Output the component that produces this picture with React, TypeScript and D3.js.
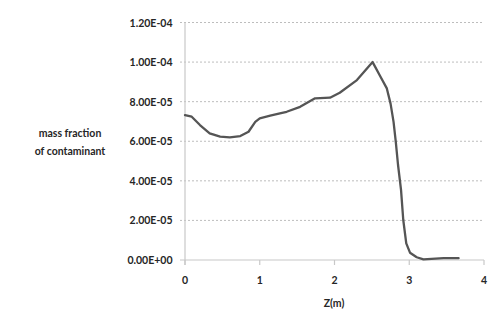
import * as d3 from "d3";
import { useEffect, useRef } from "react";

// distance along Z (m) and mass fraction
const zValues = [0, 0.09, 0.2, 0.33, 0.47, 0.6, 0.74, 0.85, 0.94, 1.0, 1.14, 1.27, 1.36, 1.54, 1.74, 1.94, 2.07, 2.3, 2.51, 2.61, 2.7, 2.75, 2.79, 2.82, 2.85, 2.89, 2.92, 2.96, 3.01, 3.1, 3.19, 3.46, 3.66];
const massFraction = [7.32e-5, 7.24e-5, 6.82e-5, 6.4e-5, 6.23e-5, 6.2e-5, 6.26e-5, 6.48e-5, 6.98e-5, 7.16e-5, 7.29e-5, 7.41e-5, 7.49e-5, 7.74e-5, 8.17e-5, 8.2e-5, 8.45e-5, 9.09e-5, 1.0e-4, 9.3e-5, 8.67e-5, 7.9e-5, 6.98e-5, 5.97e-5, 4.8e-5, 3.54e-5, 2.02e-5, 8.4e-6, 3.7e-6, 1.4e-6, 3.5e-7, 9e-7, 9e-7];
const yTicks = [0, 2e-5, 4e-5, 6e-5, 8e-5, 1e-4, 1.2e-4];
const xTicks = [0, 1, 2, 3, 4];

const fmtExp = (v: number) => {
  const s = v.toExponential(2).toUpperCase();
  const [m, e] = s.split("E");
  const n = parseInt(e, 10);
  const sign = n < 0 ? "-" : "+";
  return `${m}E${sign}${String(Math.abs(n)).padStart(2, "0")}`;
};

export default function App() {
  const ref = useRef<SVGSVGElement>(null);

  useEffect(() => {
    const svg = d3.select(ref.current);
    svg.selectAll("*").remove();
    const font = "Lato, 'Open Sans', sans-serif";
    const textColor = "#262626";

    const x = d3.scaleLinear().domain([0, 4]).range([185, 484]);
    const y = d3.scaleLinear().domain([0, 1.2e-4]).range([260, 22.5]);

    // gridlines
    svg.append("g")
      .selectAll("line")
      .data(yTicks.filter(d => d > 0))
      .join("line")
      .attr("x1", 180).attr("x2", 484)
      .attr("y1", d => y(d)).attr("y2", d => y(d))
      .attr("stroke", "#bdbdbd")
      .attr("stroke-width", 1)
      .attr("stroke-dasharray", "2,2");

    // axes lines
    svg.append("line")
      .attr("x1", x(0)).attr("x2", x(0))
      .attr("y1", y(1.2e-4)).attr("y2", y(0) + 5)
      .attr("stroke", "#c8c8c8").attr("stroke-width", 1.2);
    svg.append("line")
      .attr("x1", 180).attr("x2", x(4))
      .attr("y1", y(0)).attr("y2", y(0))
      .attr("stroke", "#c8c8c8").attr("stroke-width", 1.2);

    svg.append("g")
      .selectAll("line")
      .data(xTicks)
      .join("line")
      .attr("x1", d => x(d)).attr("x2", d => x(d))
      .attr("y1", y(0)).attr("y2", y(0) + 5)
      .attr("stroke", "#c8c8c8").attr("stroke-width", 1.2);

    // tick labels
    svg.append("g")
      .selectAll("text")
      .data(yTicks)
      .join("text")
      .attr("x", 172.5)
      .attr("y", d => y(d) + 4)
      .attr("text-anchor", "end")
      .attr("font-family", font)
      .attr("font-size", 10.5)
      .attr("font-weight", 700)
      .attr("fill", textColor)
      .text(d => fmtExp(d));

    svg.append("g")
      .selectAll("text")
      .data(xTicks)
      .join("text")
      .attr("x", d => x(d))
      .attr("y", 284)
      .attr("text-anchor", "middle")
      .attr("font-family", font)
      .attr("font-size", 10.5)
      .attr("font-weight", 700)
      .attr("fill", textColor)
      .text(d => d);

    svg.append("text")
      .attr("x", 334).attr("y", 307)
      .attr("text-anchor", "middle")
      .attr("font-family", font)
      .attr("font-size", 10.5)
      .attr("font-weight", 700)
      .attr("fill", textColor)
      .text("Z(m)");

    const yLabel = svg.append("text")
      .attr("text-anchor", "middle")
      .attr("font-family", font)
      .attr("font-size", 10.5)
      .attr("font-weight", 700)
      .attr("fill", textColor);
    yLabel.append("tspan").attr("x", 70).attr("y", 137).text("mass fraction");
    yLabel.append("tspan").attr("x", 70).attr("y", 155).text("of contaminant");

    const line = d3.line<number>()
      .x((_, i) => x(zValues[i]))
      .y(d => y(d))
      .curve(d3.curveLinear);

    svg.append("path")
      .datum(massFraction)
      .attr("d", line)
      .attr("fill", "none")
      .attr("stroke", "#555")
      .attr("stroke-width", 2.3)
      .attr("stroke-linejoin", "round")
      .attr("stroke-linecap", "round");
  }, []);

  return (
    <svg ref={ref} width={495} height={327}
      style={{ position: "absolute", left: 0, top: 0, background: "#fff" }} />
  );
}
